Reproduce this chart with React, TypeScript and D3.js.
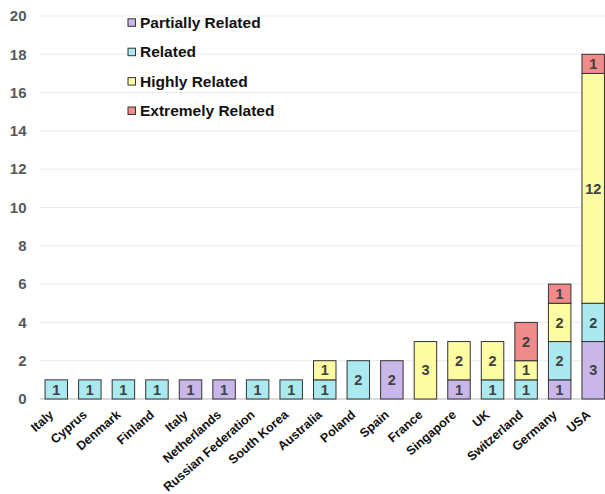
import React from "react";
import * as d3 from "d3";

const categories = ["Italy", "Cyprus", "Denmark", "Finland", "Italy", "Netherlands", "Russian Federation", "South Korea", "Australia", "Poland", "Spain", "France", "Singapore", "UK", "Switzerland", "Germany", "USA"];
const partiallyRelated = [0, 0, 0, 0, 1, 1, 0, 0, 0, 0, 2, 0, 1, 0, 0, 1, 3];
const related = [1, 1, 1, 1, 0, 0, 1, 1, 1, 2, 0, 0, 0, 1, 1, 2, 2];
const highlyRelated = [0, 0, 0, 0, 0, 0, 0, 0, 1, 0, 0, 3, 2, 2, 1, 2, 12];
const extremelyRelated = [0, 0, 0, 0, 0, 0, 0, 0, 0, 0, 0, 0, 0, 0, 2, 1, 1];
const seriesNames = ["Partially Related", "Related", "Highly Related", "Extremely Related"];
const yTicks = [0, 2, 4, 6, 8, 10, 12, 14, 16, 18, 20];

const colors = ["#c8b7e8", "#a9e9ef", "#fdfca2", "#f08b8b"];
const W = 605, H = 494;

export default function App() {
  const values = [partiallyRelated, related, highlyRelated, extremelyRelated];
  const rows = categories.map((c, i) => ({ key: String(i), name: c, s0: values[0][i], s1: values[1][i], s2: values[2][i], s3: values[3][i] }));
  const stack = d3.stack<any>().keys(["s0", "s1", "s2", "s3"])(rows);
  const x = d3.scaleBand<string>().domain(rows.map(r => r.key)).range([39.5, 610]).paddingInner(0.33).paddingOuter(0.165);
  const y = d3.scaleLinear().domain([0, 20]).range([399, 16]);
  const font = "Arial, 'Liberation Sans', sans-serif";
  return (
    <svg width={W} height={H} style={{ position: "absolute", left: 0, top: 0, display: "block" }} fontFamily={font}>
      <rect width={W} height={H} fill="#fff" />
      {yTicks.map(t => (
        <g key={t}>
          <line x1={40} x2={W} y1={y(t)} y2={y(t)} stroke={t === 0 ? "#cfcfcf" : "#ebebeb"} strokeWidth={t === 0 ? 1.5 : 1} />
          <text x={26.5} y={y(t)} dy="0.35em" textAnchor="end" fontSize={15} fontWeight="bold" fill="#595959">{t}</text>
        </g>
      ))}
      {stack.map((s, si) => (
        <g key={si}>
          {s.map((d, i) => {
            const v = d[1] - d[0];
            if (v <= 0) return null;
            const bx = x(rows[i].key)!;
            const bw = x.bandwidth();
            return (
              <g key={i}>
                <rect x={bx} y={y(d[1])} width={bw} height={y(d[0]) - y(d[1])} fill={colors[si]} stroke="#333" strokeWidth={1} />
                <text x={bx + bw / 2} y={(y(d[0]) + y(d[1])) / 2} dy="0.36em" textAnchor="middle" fontSize={14.5} fontWeight="bold" fill="#404040">{v}</text>
              </g>
            );
          })}
        </g>
      ))}
      {rows.map(r => {
        const cx = x(r.key)! + x.bandwidth() / 2 - 2;
        return (
          <text key={r.key} transform={`translate(${cx},${416}) rotate(-41)`} textAnchor="end" fontSize={12.5} fontWeight="bold" fill="#111">{r.name}</text>
        );
      })}
      {seriesNames.map((n, i) => (
        <g key={n} transform={`translate(128,${22.3 + i * 29.4})`}>
          <rect x={0} y={-3.5} width={7.5} height={7.5} fill={colors[i]} stroke="#333" strokeWidth={1} />
          <text x={12} y={0} dy="0.36em" fontSize={15.5} fontWeight="bold" fill="#111">{n}</text>
        </g>
      ))}
    </svg>
  );
}
